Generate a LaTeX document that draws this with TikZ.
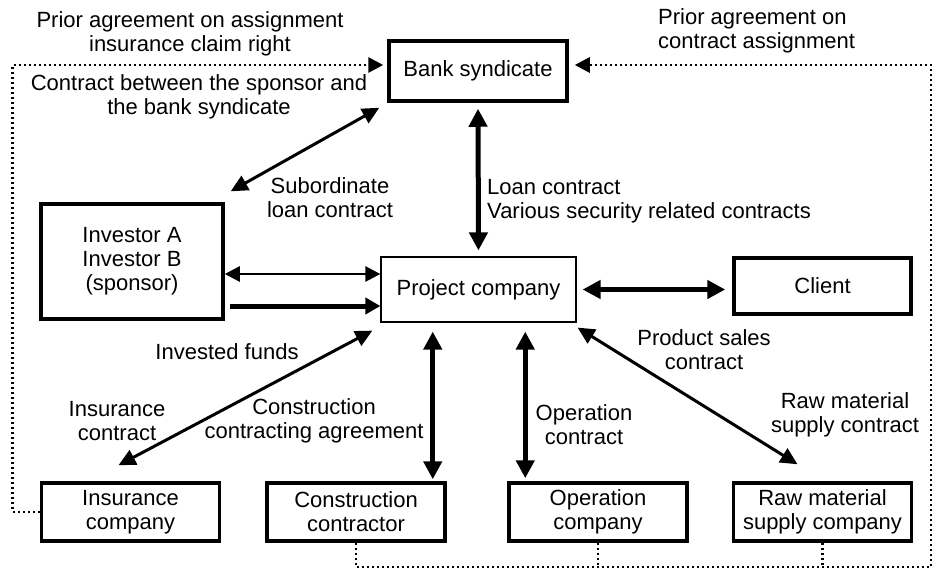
\documentclass[tikz,border=0pt]{standalone}
\usepackage{fontspec}
\setmainfont{Liberation Sans}
\usetikzlibrary{
  arrows.meta
}

\begin{document}
\begin{tikzpicture}[x=1pt, y=-1pt,
    every node/.style={font=\fontsize{22}{24}\selectfont, align=center, inner sep=0pt},
    box/.style={draw, line width=3.5pt, minimum width=178pt, minimum height=58pt},
    link/.style={line width=5pt, {Triangle[length=18pt,width=18pt]}-{Triangle[length=18pt,width=18pt]}},
    slant/.style={line width=3pt, {Triangle[length=17pt,width=16pt]}-{Triangle[length=17pt,width=16pt]}},
    dotline/.style={line width=2.8pt, dash pattern=on 2pt off 3pt}]
  \useasboundingbox (0,0) rectangle (934,569);

  % boxes
  \node[box, minimum width=178pt, minimum height=60pt] (bank) at (478,71) {Bank syndicate};
  \node[draw, line width=1.2pt, minimum width=195pt, minimum height=65pt] (proj) at (478.5,289.5) {Project company};
  \node[box, minimum width=182pt, minimum height=115pt] (inv) at (132,261.5) {Investor A\\Investor B\\(sponsor)};
  \node[box, minimum width=177pt, minimum height=56pt] (client) at (822.5,286) {Client};
  \node[box] (ins) at (130.5,512) {Insurance\\company};
  \node[box] (cons) at (356,512) {Construction\\contractor};
  \node[box] (oper) at (598,512) {Operation\\company};
  \node[box] (raw) at (822.5,512) {Raw material\\supply company};

  % contracts
  \draw[link, shorten <=6pt, shorten >=6pt] (bank.south) -- (proj.north);
  \draw[slant] ([xshift=-8pt,yshift=-5pt]bank.south west) -- ([xshift=6pt,yshift=11pt]inv.north east);
  \draw[line width=2.4pt, {Triangle[length=15pt,width=15pt]}-{Triangle[length=15pt,width=15pt]}]
    ([yshift=-12.5pt]inv.east) -- ([yshift=-12.5pt]inv.east -| proj.west);
  \draw[line width=5pt, -{Triangle[length=15pt,width=16pt]}, shorten <=5pt]
    ([yshift=-44.5pt]inv.east) -- ([yshift=-44.5pt]inv.east -| proj.west);
  \draw[link, shorten <=6pt, shorten >=7pt] (proj.east) -- (proj.east -| client.west);
  \draw[slant] ([xshift=-8pt,yshift=-8pt]proj.south west) -- ([xshift=-12pt,yshift=16pt]ins.north);
  \draw[slant] ([xshift=1pt,yshift=-5pt]proj.south east) -- ([xshift=-25pt,yshift=17pt]raw.north);
  \coordinate (cup) at ([xshift=-14pt]cons.north east);
  \coordinate (oup) at ([xshift=18pt]oper.north west);
  \draw[link, shorten <=2pt, shorten >=9pt] (cup) -- (cup |- proj.south);
  \draw[link, shorten <=3pt, shorten >=9pt] (oup) -- (oup |- proj.south);

  % prior agreements
  \draw[dotline, -{Triangle[length=15pt,width=15pt]}, shorten >=4pt]
    (ins.west) -- ++(-27,0) |- ([yshift=6pt]bank.west);
  \coordinate (dotcorner) at (931,567);
  \draw[dotline, -{Triangle[length=15pt,width=15pt]}, shorten >=6pt]
    (cons.south) |- (dotcorner) |- ([yshift=6pt]bank.east);
  \draw[dotline] (oper.south) -- (oper.south |- dotcorner);
  \draw[dotline] (raw.south) -- (raw.south |- dotcorner);

  % labels
  \node (agreeins) at (190,34) {Prior agreement on assignment\\insurance claim right};
  \node (sponsbank) at (199,97) {Contract between the sponsor and\\the bank syndicate};
  \node (subloan) at (330,198) {Subordinate\\loan contract};
  \node[anchor=west, align=left] (loanlbl) at (487,201) {Loan contract\\Various security related contracts};
  \node[anchor=west, align=left] (agreecon) at (658,31) {Prior agreement on\\contract assignment};
  \node (invested) at (227,352) {Invested funds};
  \node (inslbl) at (117,421) {Insurance\\contract};
  \node (conslbl) at (314,421) {Construction\\contracting agreement};
  \node (operlbl) at (584,425) {Operation\\contract};
  \node (prodlbl) at (704,350) {Product sales\\contract};
  \node (rawlbl) at (845,415) {Raw material\\supply contract};
\end{tikzpicture}
\end{document}
